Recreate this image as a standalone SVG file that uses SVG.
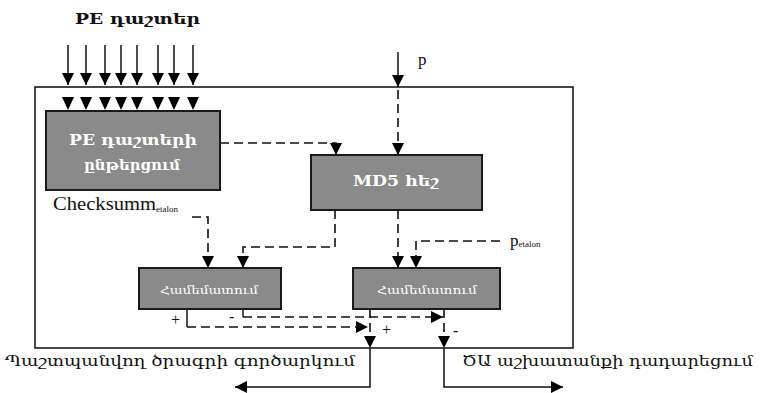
<svg xmlns="http://www.w3.org/2000/svg" width="764" height="393" viewBox="0 0 764 393">
<style>
.box{fill:#8a8a8a;stroke:#1a1a1a;stroke-width:2}
.frame{fill:none;stroke:#1a1a1a;stroke-width:1.6}
.ln{fill:none;stroke:#111;stroke-width:1.5}
.ds{fill:none;stroke:#111;stroke-width:1.6;stroke-dasharray:9 5}
.wt{fill:#ffffff;font-family:"DejaVu Serif","DejaVu Sans",serif;text-anchor:middle}
.bt{fill:#111;font-family:"DejaVu Serif","DejaVu Sans",serif}
.lt{fill:#111;font-family:"Liberation Serif","Times New Roman",serif}
.tri{fill:#000}
</style>
<defs>
<marker id="ah" viewBox="0 0 12 12" markerWidth="12" markerHeight="13" refX="12" refY="6" orient="auto" markerUnits="userSpaceOnUse">
<path d="M0,0 L12,6 L0,12 z" fill="#000"/>
</marker>
</defs>
<rect class="frame" x="35" y="87" width="538" height="261"/>
<text class="bt" x="75" y="24" font-size="15" font-weight="bold" textLength="125" lengthAdjust="spacingAndGlyphs">PE դաշտեր</text>
<g id="connectors">
<g class="ln" marker-end="url(#ah)">
<path d="M68,45 V85"/><path d="M86,45 V85"/><path d="M105,45 V85"/><path d="M121,45 V85"/>
<path d="M137,45 V85"/><path d="M158,45 V85"/><path d="M174,45 V85"/><path d="M193,45 V85"/>
</g>
<g class="tri">
<polygon points="62,97 74,97 68,110"/><polygon points="80,97 92,97 86,110"/><polygon points="99,97 111,97 105,110"/><polygon points="115,97 127,97 121,110"/>
<polygon points="131,97 143,97 137,110"/><polygon points="152,97 164,97 158,110"/><polygon points="168,97 180,97 174,110"/><polygon points="187,97 199,97 193,110"/>
</g>
<path class="ds" d="M220,143 H336 V155" marker-end="url(#ah)"/>
<path class="ln" d="M398,52 V87" marker-end="url(#ah)"/>
<path class="ds" d="M398,90 V155" marker-end="url(#ah)"/>
<path class="ds" d="M335,210 V247 H243 V268" marker-end="url(#ah)"/>
<path class="ds" d="M192,217 H208 V268" marker-end="url(#ah)"/>
<path class="ds" d="M398,210 V268" marker-end="url(#ah)"/>
<path class="ds" d="M500,241 H416 V268" marker-end="url(#ah)"/>
<path class="ln" d="M187,309 V327"/>
<path class="ds" d="M187,327 H368" marker-end="url(#ah)"/>
<path class="ln" d="M243,309 V317"/>
<path class="ds" d="M243,317 H443" marker-end="url(#ah)"/>
<path class="ds" d="M370,309 V348" marker-end="url(#ah)"/>
<path class="ln" d="M370,348 V387 H235" marker-end="url(#ah)"/>
<path class="ds" d="M444,309 V348" marker-end="url(#ah)"/>
<path class="ln" d="M444,348 V387 H563" marker-end="url(#ah)"/>
</g>
<g id="pe-read">
<rect class="box" x="46" y="111" width="174" height="79"/>
<text class="wt" x="133" y="145" font-size="14" font-weight="bold" textLength="128" lengthAdjust="spacingAndGlyphs">PE դաշտերի</text>
<text class="wt" x="132" y="170" font-size="14" font-weight="bold" textLength="96" lengthAdjust="spacingAndGlyphs">ընթերցում</text>
</g>
<g id="md5">
<rect class="box" x="311" y="155" width="171" height="55"/>
<text class="wt" x="396" y="186" font-size="15" font-weight="bold" textLength="86" lengthAdjust="spacingAndGlyphs">MD5 հեշ</text>
</g>
<g id="compare1">
<rect class="box" x="139" y="268" width="142" height="41"/>
<text class="wt" x="209" y="294" font-size="11" textLength="98" lengthAdjust="spacingAndGlyphs">Համեմատում</text>
</g>
<g id="compare2">
<rect class="box" x="353" y="268" width="147" height="41"/>
<text class="wt" x="427" y="294" font-size="11" textLength="100" lengthAdjust="spacingAndGlyphs">Համեմատում</text>
</g>
<g id="labels">
<text class="lt" x="53" y="210" font-size="18"><tspan textLength="103" lengthAdjust="spacingAndGlyphs">Checksumm</tspan><tspan font-size="9" dy="2">etalon</tspan></text>
<text class="lt" x="418" y="65" font-size="17">p</text>
<text class="lt" x="510" y="246" font-size="17">p<tspan font-size="9" dy="1">etalon</tspan></text>
<text class="lt" x="171" y="325" font-size="16">+</text>
<text class="lt" x="229" y="322" font-size="16">-</text>
<text class="lt" x="382" y="335" font-size="16">+</text>
<text class="lt" x="453" y="336" font-size="16">-</text>
<text class="bt" x="5" y="366" font-size="14" textLength="350" lengthAdjust="spacingAndGlyphs">Պաշտպանվող ծրագրի գործարկում</text>
<text class="bt" x="462" y="366" font-size="14" textLength="291" lengthAdjust="spacingAndGlyphs">ԾԱ աշխատանքի դադարեցում</text>
</g>
</svg>
